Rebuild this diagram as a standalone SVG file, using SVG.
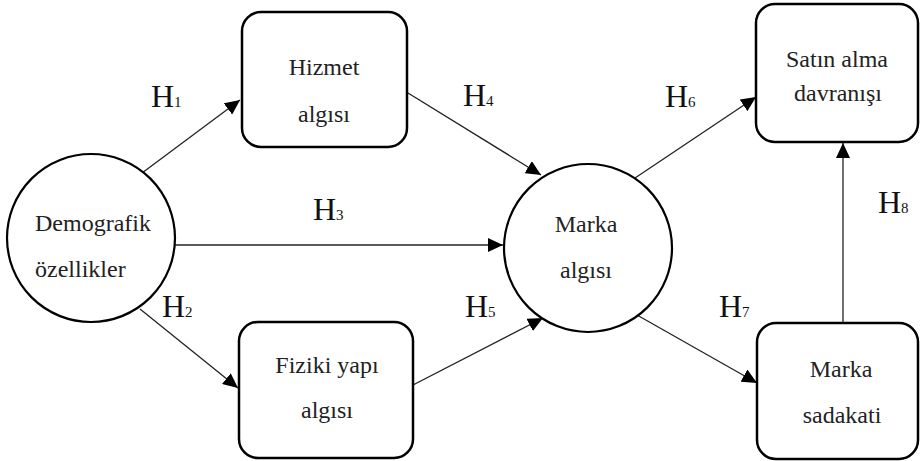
<svg xmlns="http://www.w3.org/2000/svg" width="922" height="461" viewBox="0 0 922 461">
<defs>
<style>
.box{fill:#fff;stroke:#000;stroke-width:2.5}
.circ{fill:#fff;stroke:#000;stroke-width:2.2}
text{font-family:'Liberation Serif','DejaVu Serif',serif}
.lbl{font-size:24px;fill:#222}
.h{font-size:32px;fill:#111}
.sub{font-size:15px}
.conn{stroke:#222;stroke-width:1.3;fill:none;marker-end:url(#arr)}
</style>
<marker id="arr" markerUnits="userSpaceOnUse" markerWidth="16" markerHeight="14" refX="15" refY="7" orient="auto">
<path d="M0,0 L15,7 L0,14 Z" fill="#000"/>
</marker>
</defs>
<rect width="922" height="461" fill="#fff"/>
<g id="connectors">
<line class="conn" x1="142" y1="173" x2="240" y2="100"/>
<line class="conn" x1="175" y1="245" x2="503" y2="245"/>
<line class="conn" x1="140" y1="309" x2="238" y2="388"/>
<line class="conn" x1="408" y1="93" x2="541" y2="175"/>
<line class="conn" x1="413" y1="385" x2="543" y2="318"/>
<line class="conn" x1="635" y1="178" x2="756" y2="97"/>
<line class="conn" x1="637" y1="315" x2="757" y2="383"/>
<line class="conn" x1="843" y1="323" x2="843" y2="143"/>
</g>
<g id="labels">
<text class="h" x="151" y="107">H<tspan class="sub">1</tspan></text>
<text class="h" x="313" y="220">H<tspan class="sub">3</tspan></text>
<text class="h" x="162" y="317">H<tspan class="sub">2</tspan></text>
<text class="h" x="463" y="106">H<tspan class="sub">4</tspan></text>
<text class="h" x="465" y="317">H<tspan class="sub">5</tspan></text>
<text class="h" x="665" y="107">H<tspan class="sub">6</tspan></text>
<text class="h" x="719" y="317">H<tspan class="sub">7</tspan></text>
<text class="h" x="878" y="213">H<tspan class="sub">8</tspan></text>
</g>
<g id="demografik">
<circle class="circ" cx="91" cy="238" r="84"/>
<text class="lbl" x="35" y="231">Demografik</text>
<text class="lbl" x="35" y="277">özellikler</text>
</g>
<g id="hizmet">
<rect class="box" x="242" y="12" width="165" height="135" rx="19"/>
<text class="lbl" x="324" y="75" text-anchor="middle">Hizmet</text>
<text class="lbl" x="324" y="122" text-anchor="middle">algısı</text>
</g>
<g id="fiziki">
<rect class="box" x="239" y="322" width="174" height="136" rx="19"/>
<text class="lbl" x="327" y="373" text-anchor="middle">Fiziki yapı</text>
<text class="lbl" x="327" y="418" text-anchor="middle">algısı</text>
</g>
<g id="marka-algisi">
<circle class="circ" cx="588" cy="248" r="84"/>
<text class="lbl" x="586" y="232" text-anchor="middle">Marka</text>
<text class="lbl" x="586" y="278" text-anchor="middle">algısı</text>
</g>
<g id="satin-alma">
<rect class="box" x="756" y="4" width="162" height="138" rx="19"/>
<text class="lbl" x="837" y="67" text-anchor="middle">Satın alma</text>
<text class="lbl" x="838" y="101" text-anchor="middle">davranışı</text>
</g>
<g id="marka-sadakati">
<rect class="box" x="757" y="323" width="161" height="136" rx="19"/>
<text class="lbl" x="841" y="377" text-anchor="middle">Marka</text>
<text class="lbl" x="842" y="423" text-anchor="middle">sadakati</text>
</g>
</svg>
